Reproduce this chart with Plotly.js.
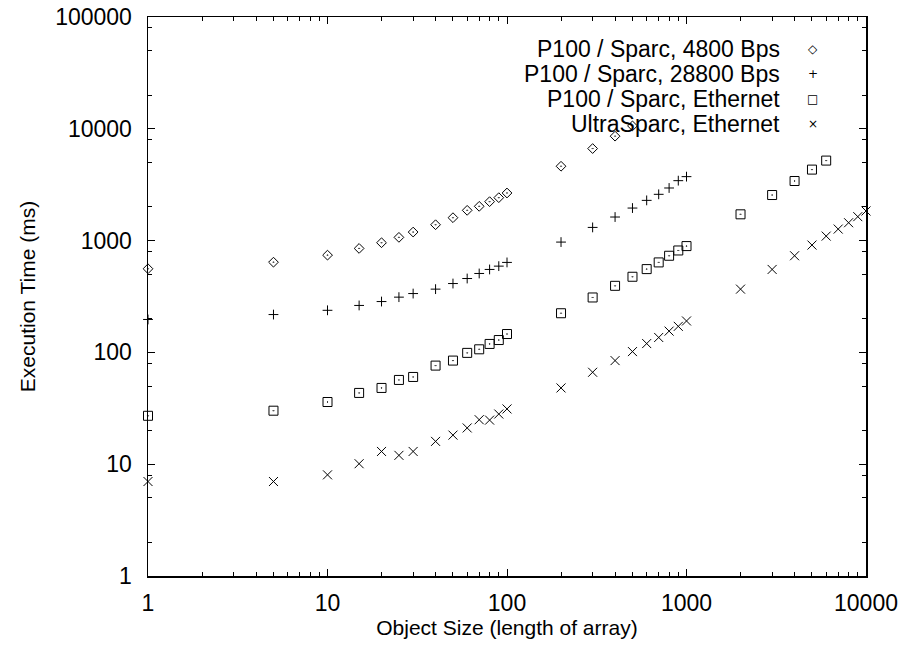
<!DOCTYPE html>
<html>
<head>
<meta charset="utf-8">
<script src="https://cdn.plot.ly/plotly-3.0.1.min.js"></script>
<style>
  html, body { margin: 0; padding: 0; background: #fff; }
  #chart { width: 905px; height: 646px; }
</style>
</head>
<body>
<div id="chart"></div>
<script>
// ---- data ----
const seriesNames = [
  "P100 / Sparc, 4800 Bps",
  "P100 / Sparc, 28800 Bps",
  "P100 / Sparc, Ethernet",
  "UltraSparc, Ethernet"
];

const sizes4800 = [1, 5, 10, 15, 20, 25, 30, 40, 50, 60, 70, 80, 90, 100, 200, 300, 400, 500];
const times4800 = [560, 641, 741, 851, 957, 1069, 1192, 1387, 1603, 1865, 2025, 2230, 2421, 2666, 4624, 6656, 8590, 10620];

const sizes28800 = [1, 5, 10, 15, 20, 25, 30, 40, 50, 60, 70, 80, 90, 100, 200, 300, 400, 500, 600, 700, 800, 900, 1000];
const times28800 = [197, 218, 238, 263, 285, 312, 336, 368, 413, 458, 508, 552, 591, 638, 970, 1312, 1625, 1955, 2290, 2594, 2955, 3437, 3733];

const sizesEth = [1, 5, 10, 15, 20, 25, 30, 40, 50, 60, 70, 80, 90, 100, 200, 300, 400, 500, 600, 700, 800, 900, 1000, 2000, 3000, 4000, 5000, 6000];
const timesEth = [27.1, 30.1, 36.0, 43.4, 48.1, 56.7, 60.3, 76.2, 84.5, 99, 106.6, 119, 129, 146, 224, 310, 394, 475, 556, 638, 732, 816, 893, 1718, 2557, 3413, 4316, 5197];

const sizesUltra = [1, 5, 10, 15, 20, 25, 30, 40, 50, 60, 70, 80, 90, 100, 200, 300, 400, 500, 600, 700, 800, 900, 1000, 2000, 3000, 4000, 5000, 6000, 7000, 8000, 9000, 10000];
const timesUltra = [7.0, 7.0, 8.03, 10.1, 13.0, 12.0, 13.0, 16.0, 18.2, 21.1, 25.0, 24.8, 28.1, 31.2, 48.1, 66.4, 84.5, 101.7, 120, 136, 155, 171, 191, 368, 552, 732, 912, 1097, 1268, 1445, 1637, 1840];

const xTickVals = [1, 10, 100, 1000, 10000];
const xTickText = ["1", "10", "100", "1000", "10000"];
const yTickVals = [1, 10, 100, 1000, 10000, 100000];
const yTickText = ["1", "10", "100", "1000", "10000", "100000"];
const xMinorVals = [];
[1, 10, 100, 1000].forEach(d => { for (let k = 2; k <= 9; k++) xMinorVals.push(k * d); });
const yMinorVals = [];
[1, 10, 100, 1000, 10000].forEach(d => { [2, 5, 8].forEach(k => yMinorVals.push(k * d)); });

const keySymbols = ["\u25C7", "+", "\u25A1", "\u00D7"];

// ---- traces ----
const markerStyles = [
  { symbol: "diamond-open-dot", size: 7.5 },
  { symbol: "cross-thin-open", size: 7 },
  { symbol: "square-open-dot", size: 9 },
  { symbol: "x-thin-open", size: 9 }
];
const xs = [sizes4800, sizes28800, sizesEth, sizesUltra];
const ys = [times4800, times28800, timesEth, timesUltra];

const traces = xs.map((x, i) => ({
  type: "scatter",
  mode: "markers",
  name: seriesNames[i],
  x: x,
  y: ys[i],
  cliponaxis: false,
  marker: {
    symbol: markerStyles[i].symbol,
    size: markerStyles[i].size,
    color: "#000",
    line: { color: "#000", width: 1 }
  }
}));

// fully transparent carrier so that the top/right tick axes get drawn
traces.push({
  type: "scatter",
  mode: "markers",
  name: "border ticks",
  x: sizesUltra,
  y: timesUltra,
  xaxis: "x2",
  yaxis: "y2",
  showlegend: false,
  hoverinfo: "skip",
  marker: { opacity: 0, size: 1, color: "rgba(0,0,0,0)" }
});

const FONT = "Liberation Sans, Arial, Helvetica, sans-serif";

// key (gnuplot style: text right-aligned, symbol to the right)
const keyRowsY = [0.9427, 0.8978, 0.853, 0.8082];
const annotations = [];
seriesNames.forEach((n, i) => {
  annotations.push({
    xref: "paper", yref: "paper", x: 0.883, y: keyRowsY[i],
    xanchor: "right", yanchor: "middle", showarrow: false,
    text: n, font: { family: FONT, size: 23, color: "#000" }
  });
  annotations.push({
    xref: "paper", yref: "paper", x: 0.9255, y: keyRowsY[i],
    xanchor: "center", yanchor: "middle", showarrow: false,
    text: keySymbols[i], font: { family: "DejaVu Sans", size: 12, color: "#000" }
  });
});

const axisCommon = {
  type: "log",
  showgrid: false,
  zeroline: false,
  showline: true,
  linecolor: "#000",
  linewidth: 1.5,
  mirror: true,
  ticks: "inside",
  ticklen: 7,
  tickwidth: 1,
  tickcolor: "#000",
  tickmode: "array",
  tickfont: { family: FONT, size: 23, color: "#000" }
};

const minorX = { tickmode: "array", tickvals: xMinorVals, ticks: "inside", ticklen: 4, tickwidth: 1, tickcolor: "#000", showgrid: false };
const minorY = { tickmode: "array", tickvals: yMinorVals, ticks: "inside", ticklen: 4, tickwidth: 1, tickcolor: "#000", showgrid: false };

const layout = {
  width: 905,
  height: 646,
  margin: { l: 148, r: 39, t: 17, b: 70 },
  paper_bgcolor: "#fff",
  plot_bgcolor: "#fff",
  showlegend: false,
  font: { family: FONT, color: "#000" },
  xaxis: Object.assign({}, axisCommon, {
    range: [0, 4],
    tickvals: xTickVals,
    ticktext: xTickText,
    ticklabelstandoff: 6,
    minor: minorX,
    title: { text: "Object Size (length of array)", font: { family: FONT, size: 21, color: "#000" }, standoff: 4 }
  }),
  yaxis: Object.assign({}, axisCommon, {
    range: [0, 5],
    tickvals: yTickVals,
    ticktext: yTickText,
    ticklabelstandoff: 10,
    minor: minorY,
    title: { text: "Execution Time (ms)", font: { family: FONT, size: 21, color: "#000" }, standoff: 14 }
  }),
  // tick marks on the top and right edges (gnuplot border style)
  xaxis2: Object.assign({}, axisCommon, {
    overlaying: "x", anchor: "y2", side: "top", range: [0, 4],
    tickvals: xTickVals, showticklabels: false, mirror: false, minor: minorX
  }),
  yaxis2: Object.assign({}, axisCommon, {
    overlaying: "y", anchor: "x2", side: "right", range: [0, 5],
    tickvals: yTickVals, showticklabels: false, mirror: false, minor: minorY
  }),
  annotations: annotations
};

Plotly.newPlot("chart", traces, layout, { displayModeBar: false, staticPlot: true });
</script>
</body>
</html>
